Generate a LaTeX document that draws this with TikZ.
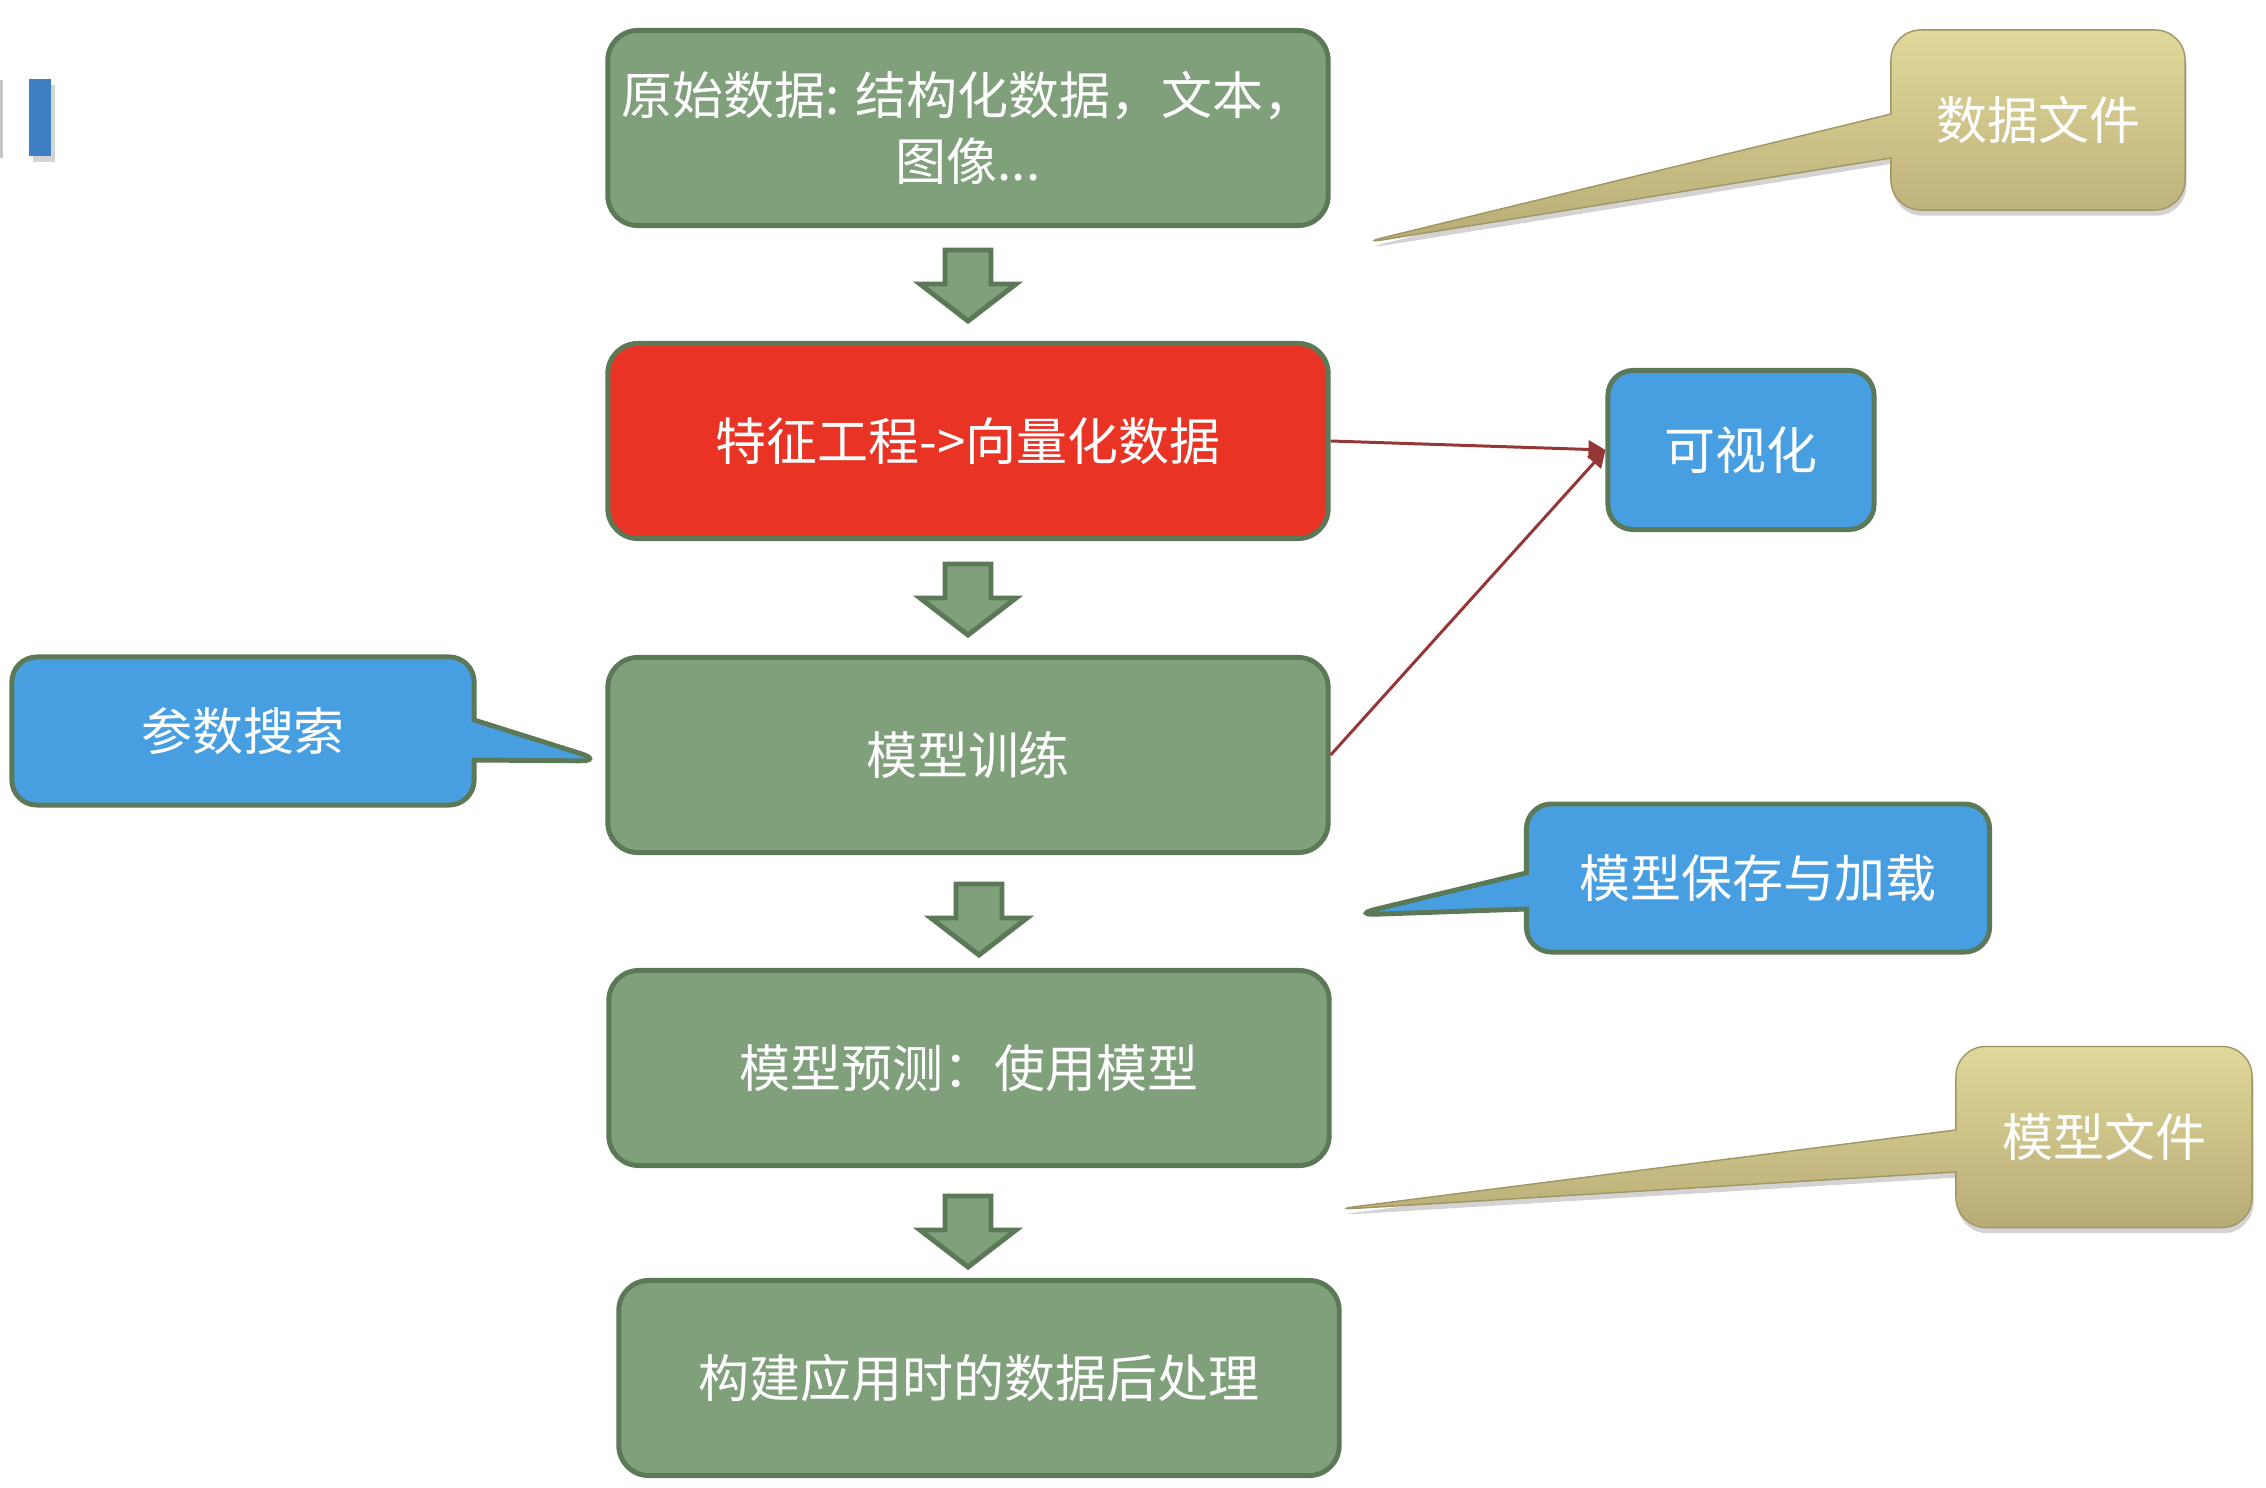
\documentclass[tikz,border=0pt]{standalone}
\usepackage{fontspec}
\newfontfamily\cjk{Noto Sans CJK SC}
\usetikzlibrary{shapes.callouts,shadows,arrows.meta}

\definecolor{boxgreen}{RGB}{127,160,123}
\definecolor{boxline}{RGB}{91,120,87}
\definecolor{featred}{RGB}{233,52,37}
\definecolor{callblue}{RGB}{71,159,226}
\definecolor{tantop}{RGB}{224,216,154}
\definecolor{tanbot}{RGB}{184,172,118}
\definecolor{tanline}{RGB}{160,150,100}
\definecolor{arrred}{RGB}{149,55,53}
\definecolor{barblue}{RGB}{62,126,194}

\begin{document}
\begin{tikzpicture}
  [x=0.01cm,y=-0.01cm,
   every node/.style={text=white,font=\cjk\fontsize{14.5}{19}\selectfont,align=center,inner sep=2pt},
   flowbox/.style={draw=boxline,line width=1.4pt,fill=boxgreen,rounded corners=0.3cm,
     minimum width=7.2cm,minimum height=1.95cm},
   bluebox/.style={draw=boxline,line width=1.4pt,fill=callblue,rounded corners=0.25cm},
   bluenote/.style={rectangle callout,draw=boxline,line width=1.4pt,fill=callblue,rounded corners=0.25cm},
   tannote/.style={rectangle callout,draw=tanline,line width=0.4pt,top color=tantop,
     bottom color=tanbot,rounded corners=0.3cm,
     drop shadow={shadow xshift=0.4pt,shadow yshift=-1.6pt,opacity=0.35}},
   blockarrow/.style={draw=boxline,line width=1.4pt,fill=boxgreen},
   link/.style={draw=arrred,line width=0.85pt,-{Triangle[length=0.17cm,width=0.18cm]}}]

  \useasboundingbox (0,0) rectangle (2266,1488);

  % corner mark
  \fill[gray!45] (0,80) rectangle (3,158);
  \fill[barblue,drop shadow={shadow xshift=1.2pt,shadow yshift=-1.6pt,opacity=0.35}] (29,79) rectangle (51,156);

  % main flow
  \node[flowbox] (raw)   at (968,128)  {原始数据: 结构化数据，文本，\\图像...};
  \node[flowbox,fill=featred] (feat) at (968,441) {特征工程->向量化数据};
  \node[flowbox] (train) at (968,755)  {模型训练};
  \node[flowbox] (pred)  at (969,1068) {模型预测：使用模型};
  \node[flowbox] (post)  at (979,1378) {构建应用时的数据后处理};

  \foreach \x/\y in {968/250,968/564,979/884,968/1196}
    \draw[blockarrow] (\x-23,\y) -- (\x+23,\y) -- (\x+23,\y+34) -- (\x+48,\y+34)
      -- (\x,\y+71) -- (\x-48,\y+34) -- (\x-23,\y+34) -- cycle;

  % side boxes
  \node[bluebox,minimum width=2.66cm,minimum height=1.59cm] (vis) at (1741,450) {可视化};

  \coordinate (searchtip) at (604,761);
  \coordinate (savetip)   at (1352,915);
  \coordinate (datatip)   at (1357,244);
  \coordinate (modeltip)  at (1329,1210);

  \node[bluenote,minimum width=4.62cm,minimum height=1.48cm,callout absolute pointer=(searchtip),
    callout pointer width=0.4cm] (search) at (243,731) {参数搜索};
  \node[bluenote,minimum width=4.63cm,minimum height=1.48cm,callout absolute pointer=(savetip),
    callout pointer width=0.36cm] (save) at (1758,878) {模型保存与加载};
  \node[tannote,minimum width=2.94cm,minimum height=1.8cm,callout absolute pointer=(datatip),
    callout pointer width=0.44cm] (datafile) at (2038,120) {数据文件};
  \node[tannote,minimum width=2.96cm,minimum height=1.81cm,callout absolute pointer=(modeltip),
    callout pointer width=0.42cm] (modelfile) at (2104,1137) {模型文件};

  \foreach \from/\to in {feat/vis,train/vis}
    \draw[link] (\from.east) -- (\to.west);

\end{tikzpicture}
\end{document}
